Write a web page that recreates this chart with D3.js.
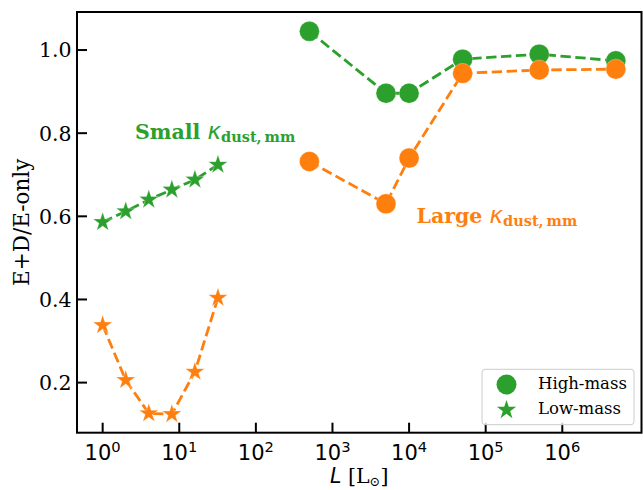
<!DOCTYPE html>
<html>
<head>
<meta charset="utf-8">
<script src="https://cdn.jsdelivr.net/npm/d3@7"></script>
<style>
  html, body { margin: 0; padding: 0; background: #fff; }
  svg { display: block; }
</style>
</head>
<body>
<svg id="chart" width="643" height="490"></svg>
<script>
// ---- data ----
const lowMassL = [1, 2, 4, 8, 16, 32];
const highMassL = [500, 5000, 10000, 50000, 500000, 5000000];
const smallLow = [0.586, 0.612, 0.640, 0.664, 0.688, 0.724];
const largeLow = [0.338, 0.206, 0.126, 0.124, 0.226, 0.404];
const smallHigh = [1.045, 0.896, 0.896, 0.978, 0.990, 0.974];
const largeHigh = [0.732, 0.630, 0.740, 0.944, 0.952, 0.954];
const xTickExps = [0, 1, 2, 3, 4, 5, 6];
const yTicks = [0.2, 0.4, 0.6, 0.8, 1.0];
const legendLabels = ["High-mass", "Low-mass"];

const GREEN = "#2ca02c", ORANGE = "#ff7f0e";
const SERIF = "'DejaVu Serif', serif";
const SANS = "'DejaVu Sans', sans-serif";

const svg = d3.select("#chart");
const pL = 77, pR = 641.5, pT = 12, pB = 432.7;

const x = d3.scaleLog().domain([Math.pow(10, -0.335), Math.pow(10, 7.034)]).range([pL, pR]);
const y = d3.scaleLinear().domain([0.0795, 1.0915]).range([pB, pT]);

const clipId = "plotclip";
svg.append("clipPath").attr("id", clipId).append("rect")
  .attr("x", pL).attr("y", pT).attr("width", pR - pL).attr("height", pB - pT);

const plot = svg.append("g").attr("clip-path", `url(#${clipId})`);

const line = d3.line().x(d => x(d[0])).y(d => y(d[1]));
const starSym = d3.symbol().type(d3.symbolStar).size(115);

function drawSeries(xs, ys, color, marker) {
  const pts = xs.map((v, i) => [v, ys[i]]);
  plot.append("path").datum(pts).attr("d", line)
    .attr("fill", "none").attr("stroke", color).attr("stroke-width", 2.8)
    .attr("stroke-dasharray", "10.4,4.5");
  if (marker === "circle") {
    plot.selectAll(null).data(pts).enter().append("circle")
      .attr("cx", d => x(d[0])).attr("cy", d => y(d[1])).attr("r", 10)
      .attr("fill", color).attr("stroke", "#fff").attr("stroke-width", 0.5).attr("stroke-opacity", 0.6);
  } else {
    plot.selectAll(null).data(pts).enter().append("path")
      .attr("d", starSym)
      .attr("transform", d => `translate(${x(d[0])},${y(d[1])})`)
      .attr("fill", color).attr("stroke", "#fff").attr("stroke-width", 0.5).attr("stroke-opacity", 0.6);
  }
}

drawSeries(highMassL, smallHigh, GREEN, "circle");
drawSeries(lowMassL, smallLow, GREEN, "star");
drawSeries(highMassL, largeHigh, ORANGE, "circle");
drawSeries(lowMassL, largeLow, ORANGE, "star");

// ---- axes frame ----
svg.append("rect").attr("x", pL).attr("y", pT).attr("width", pR - pL).attr("height", pB - pT)
  .attr("fill", "none").attr("stroke", "#000").attr("stroke-width", 2);

// x ticks (inward)
const xAxis = svg.append("g");
xTickExps.forEach(e => {
  const px = x(Math.pow(10, e));
  xAxis.append("line").attr("x1", px).attr("x2", px).attr("y1", pB).attr("y2", pB - 10)
    .attr("stroke", "#000").attr("stroke-width", 2);
  const t = xAxis.append("text").attr("x", px).attr("y", 460).attr("text-anchor", "middle")
    .attr("font-family", SANS).attr("font-size", 21).attr("fill", "#000");
  t.append("tspan").text("10");
  t.append("tspan").attr("dy", -8).attr("font-size", 14.7).text(String(e));
});

// y ticks (inward)
const yAxis = svg.append("g");
yTicks.forEach(v => {
  const py = y(v);
  yAxis.append("line").attr("x1", pL).attr("x2", pL + 10).attr("y1", py).attr("y2", py)
    .attr("stroke", "#000").attr("stroke-width", 2);
  yAxis.append("text").attr("x", 71.5).attr("y", py).attr("dy", "0.36em").attr("text-anchor", "end")
    .attr("font-family", SERIF).attr("font-size", 20.5).attr("fill", "#000").text(d3.format(".1f")(v));
});

// axis labels
const xl = svg.append("text").attr("x", (pL + pR) / 2).attr("y", 483).attr("text-anchor", "middle")
  .attr("font-family", SERIF).attr("font-size", 20.5).attr("fill", "#000");
xl.append("tspan").attr("font-family", SANS).attr("font-style", "italic").text("L");
xl.append("tspan").text(" [L");
xl.append("tspan").attr("font-size", 13).attr("dy", 3).text("⊙");
xl.append("tspan").attr("dy", -3).text("]");

svg.append("text").attr("transform", `translate(29,${(pT + pB) / 2}) rotate(-90)`)
  .attr("text-anchor", "middle").attr("font-family", SERIF).attr("font-size", 21.5).attr("fill", "#000")
  .text("E+D/E-only");

// annotations
function kappaLabel(word, px, py, color) {
  const t = svg.append("text").attr("x", px).attr("y", py).attr("font-family", SERIF)
    .attr("font-size", 20.5).attr("fill", color);
  t.append("tspan").attr("font-weight", "bold").text(word + " ");
  t.append("tspan").attr("font-style", "italic").attr("font-family", SANS).attr("font-size", 23).text("κ");
  t.append("tspan").attr("font-weight", "bold").attr("font-size", 14.5).attr("dy", 3).text("dust,\u2009mm");
}
kappaLabel("Small", 135, 138.5, GREEN);
kappaLabel("Large", 416.5, 222.5, ORANGE);

// legend
const lg = svg.append("g");
lg.append("rect").attr("x", 482).attr("y", 369.3).attr("width", 152).attr("height", 55.4).attr("rx", 3)
  .attr("fill", "#fff").attr("fill-opacity", 0.8).attr("stroke", "#ccc").attr("stroke-width", 1);
lg.append("circle").attr("cx", 506.5).attr("cy", 384.5).attr("r", 10).attr("fill", GREEN);
lg.append("path").attr("d", starSym).attr("transform", "translate(506.5,410)").attr("fill", GREEN);
legendLabels.forEach((s, i) => {
  lg.append("text").attr("x", 538).attr("y", 388.7 + i * 25).attr("font-family", SERIF)
    .attr("font-size", 16.5).attr("fill", "#000").text(s);
});
</script>
</body>
</html>
